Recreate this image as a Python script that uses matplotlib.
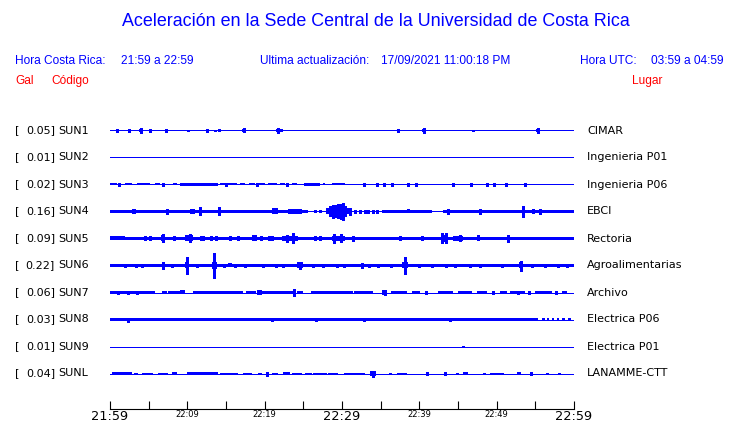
import matplotlib
matplotlib.use("Agg")
import matplotlib.pyplot as plt
import matplotlib.transforms as mtransforms
import numpy as np

# ---------------- data ----------------
codes = ["SUN1", "SUN2", "SUN3", "SUN4", "SUN5", "SUN6", "SUN7", "SUN8", "SUN9", "SUNL"]
gal = ["0.05", "0.01", "0.02", "0.16", "0.09", "0.22", "0.06", "0.03", "0.01", "0.04"]
places = ["CIMAR", "Ingenieria P01", "Ingenieria P06", "EBCI", "Rectoria",
          "Agroalimentarias", "Archivo", "Electrica P06", "Electrica P01", "LANAMME-CTT"]

tick_minutes = list(range(0, 61, 5))
tick_labels = ["21:59", "", "22:09", "", "22:19", "", "22:29", "", "22:39", "", "22:49", "", "22:59"]
major_labels = ["21:59", "22:29", "22:59"]

# envelope segments: (start minute, end minute, half amplitude)
bursts_SUN1 = [(3.7, 4.2, 1.6), (17.1, 17.5, 1.4), (21.5, 21.9, 1.6), (40.4, 40.8, 1.6), (55.1, 55.5, 1.6)]
spikes_SUN1 = [(0.86, 1.3), (2.5, 1.3), (3.97, 2.3), (5.2, 1.3), (7.2, 1.3), (10.1, 0.7), (12.5, 1.3),
               (13.6, 0.7), (14.1, 1.0), (17.3, 2.0), (21.7, 2.3), (22.1, 1.0), (37.2, 1.3),
               (40.6, 2.3), (46.9, 0.7), (55.3, 2.3)]

bursts_SUN2 = []
spikes_SUN2 = []

bursts_SUN3 = [(0.0, 0.86, 1.0), (1.94, 2.8, 1.0), (3.45, 5.17, 1.0), (5.82, 6.47, 1.0), (8.19, 8.62, 1.0),
               (9.05, 14.01, 1.2), (14.22, 16.38, 1.0), (16.81, 17.46, 1.0), (17.97, 18.75, 1.0),
               (19.18, 20.04, 1.0), (20.47, 21.55, 1.0), (21.98, 22.63, 1.0), (23.49, 24.14, 1.0),
               (25.09, 27.16, 1.2), (27.59, 27.8, 1.0), (28.66, 30.39, 1.0)]
spikes_SUN3 = [(1.2, 1.3), (6.9, 1.3), (15.0, 1.3), (19.0, 1.3), (22.9, 1.3), (32.89, 1.3), (34.57, 1.3),
               (35.47, 1.3), (36.51, 1.3), (38.58, 1.3), (39.53, 1.3), (44.31, 1.3), (46.68, 1.3),
               (48.71, 1.3), (49.70, 1.3), (51.2, 1.3), (53.66, 1.3)]

bursts_SUN4 = [(0.0, 25.65, 1.7), (2.8, 3.32, 2.3), (10.34, 10.99, 2.3), (20.91, 21.77, 3.0),
               (23.06, 24.78, 2.3), (27.9, 28.3, 3.0), (28.3, 30.7, 5.5), (28.7, 30.3, 6.3),
               (30.7, 31.0, 3.0), (35.13, 41.59, 1.7), (38.4, 38.8, 2.0), (43.1, 60.0, 1.7)]
spikes_SUN4 = [(7.33, 2.7), (11.64, 4.0), (14.14, 4.0), (26.51, 1.0), (27.16, 1.0), (28.9, 6.8),
               (29.5, 7.0), (29.9, 7.5), (30.17, 8.3), (31.03, 3.3), (31.68, 1.7), (32.33, 1.7),
               (32.97, 1.7), (33.41, 1.7), (34.05, 1.7), (34.48, 1.7), (43.75, 2.7), (47.84, 2.7),
               (53.45, 5.7), (54.74, 2.0), (55.6, 2.3)]

bursts_SUN5 = [(0.0, 60.0, 1.4), (0.0, 1.94, 2.0), (6.6, 7.0, 3.0), (9.7, 10.78, 3.0), (11.64, 12.28, 2.7),
               (18.32, 18.97, 3.0), (22.2, 24.35, 2.7), (28.66, 30.39, 2.7), (42.8, 43.5, 3.3),
               (44.4, 45.7, 2.5), (47.41, 47.84, 3.0), (58.4, 60.0, 1.7)]
spikes_SUN5 = [(4.5, 2.0), (5.2, 2.0), (6.8, 4.0), (8.3, 2.0), (10.34, 4.0), (13.0, 2.0), (13.7, 2.0),
               (15.5, 2.0), (16.5, 2.0), (19.5, 2.0), (20.5, 2.0), (21.0, 2.0), (22.9, 3.7), (23.71, 5.0),
               (26.5, 2.0), (27.2, 2.0), (29.01, 4.7), (29.9, 4.0), (31.47, 2.3), (37.5, 2.0),
               (40.3, 2.0), (42.89, 5.0), (43.41, 5.0), (45.2, 3.0), (51.51, 3.3)]

bursts_SUN6 = [(0.0, 60.0, 1.2), (6.68, 7.11, 3.0), (9.7, 10.2, 3.0), (13.2, 13.9, 3.3), (15.3, 15.73, 2.0),
               (24.14, 25.0, 3.0), (37.8, 38.5, 3.0), (52.9, 53.4, 3.0)]
spikes_SUN6 = [(1.9, 1.7), (3.3, 1.7), (4.2, 1.7), (6.9, 4.0), (8.0, 1.7), (9.91, 9.0), (11.2, 1.7),
               (13.49, 12.0), (14.8, 1.7), (16.2, 1.7), (17.5, 1.7), (19.8, 1.7), (21.5, 1.7),
               (22.4, 1.7), (24.6, 3.3), (26.3, 1.7), (27.5, 1.7), (29.4, 1.7), (30.2, 1.7), (32.54, 2.0),
               (33.5, 1.7), (34.7, 1.7), (36.3, 1.7), (38.15, 9.0), (39.9, 1.7), (41.7, 1.7), (43.4, 1.7),
               (44.6, 1.7), (46.5, 1.7), (47.9, 1.7), (50.7, 1.7), (53.15, 5.0), (54.6, 1.7), (56.2, 1.7),
               (57.9, 1.7), (59.1, 1.7)]

bursts_SUN7 = [(0.0, 5.82, 1.2), (6.68, 7.33, 1.8), (7.5, 9.05, 1.1), (9.05, 9.7, 2.0), (10.78, 11.21, 1.8),
               (11.21, 16.38, 1.1), (16.38, 17.24, 1.6), (17.6, 18.9, 1.1), (18.97, 19.61, 2.3),
               (19.61, 23.6, 1.1), (24.2, 25.0, 1.2), (26.0, 29.5, 1.1), (29.5, 31.47, 1.6),
               (31.5, 34.0, 1.1), (35.13, 35.78, 2.5), (36.4, 38.36, 1.2), (39.01, 40.09, 1.2),
               (42.46, 44.4, 1.2), (45.04, 46.77, 1.2), (47.41, 48.71, 1.4), (50.4, 51.3, 1.2),
               (51.7, 53.66, 1.2), (54.96, 57.11, 1.2), (58.41, 59.05, 1.2)]
spikes_SUN7 = [(1.0, 1.7), (2.3, 1.7), (3.5, 1.7), (23.84, 3.3), (35.5, 3.0), (40.8, 1.3), (49.5, 1.3),
               (52.7, 1.7), (54.2, 1.3), (57.7, 1.3)]

bursts_SUN8 = [(0.0, 55.4, 1.3), (55.9, 56.2, 1.3), (56.5, 56.8, 1.3), (57.1, 57.4, 1.3), (57.8, 58.1, 1.3),
               (58.5, 58.8, 1.3), (59.2, 59.6, 1.3)]
spikes_SUN8 = [(2.28, 2.0), (20.9, 1.7), (26.7, 1.5), (32.9, 1.5), (44.0, 1.5)]

bursts_SUN9 = []
spikes_SUN9 = [(45.69, 0.7)]

bursts_SUNL = [(0.2, 2.8, 1.3), (3.05, 3.66, 1.0), (4.1, 5.6, 1.0), (6.25, 7.54, 1.0), (7.97, 8.62, 1.3),
               (9.91, 14.01, 1.3), (14.22, 16.6, 1.0), (17.24, 18.3, 1.0), (19.18, 19.6, 1.0),
               (20.9, 21.77, 1.0), (22.41, 23.3, 1.3), (23.49, 24.78, 1.0), (25.2, 26.1, 1.0),
               (26.3, 28.0, 1.0), (28.2, 29.5, 1.0), (30.2, 32.97, 0.8), (33.62, 34.35, 2.5),
               (37.1, 38.36, 1.0), (45.6, 46.34, 1.3), (49.1, 51.0, 0.8), (52.6, 53.2, 1.3)]
spikes_SUNL = [(20.26, 2.0), (34.0, 3.0), (36.2, 1.0), (41.0, 1.3), (43.3, 1.3), (44.9, 1.0), (48.3, 1.0),
               (54.5, 1.3), (56.5, 1.0), (58.0, 1.0)]

bursts = [bursts_SUN1, bursts_SUN2, bursts_SUN3, bursts_SUN4, bursts_SUN5,
          bursts_SUN6, bursts_SUN7, bursts_SUN8, bursts_SUN9, bursts_SUNL]
spikes = [spikes_SUN1, spikes_SUN2, spikes_SUN3, spikes_SUN4, spikes_SUN5,
          spikes_SUN6, spikes_SUN7, spikes_SUN8, spikes_SUN9, spikes_SUNL]

# ---------------- figure ----------------
W, H = 740, 423
fig = plt.figure(figsize=(W / 100, H / 100), dpi=100)
fig.patch.set_facecolor("white")

ax_left, ax_right, ax_top, ax_bot = 110, 574, 117, 409
ax = fig.add_axes([ax_left / W, (H - ax_bot) / H, (ax_right - ax_left) / W, (ax_bot - ax_top) / H])
spacing_px = 27.0
first_px = 130.5
ax.set_xlim(0, 60)
ax.set_ylim((ax_bot - first_px) / spacing_px, (ax_top - first_px) / spacing_px)
amp_scale = 1.0 / spacing_px

BLUE = "#0000ff"
for i in range(len(codes)):
    ax.plot([0, 60], [i, i], color=BLUE, lw=0.72, solid_capstyle="butt", antialiased=False)
    for (s, e, a) in bursts[i]:
        ax.fill_between([s, e], i - a * amp_scale, i + a * amp_scale, color=BLUE, lw=0,
                        antialiased=False)
    for (t, a) in spikes[i]:
        ax.vlines(t, i - a * amp_scale, i + a * amp_scale, color=BLUE, lw=1.0, antialiased=False)

for sp in ["top", "left", "right"]:
    ax.spines[sp].set_visible(False)
ax.spines["bottom"].set_linewidth(0.8)
ax.set_yticks([])
ax.set_xticks(tick_minutes)
ax.set_xticklabels(tick_labels)
ax.tick_params(axis="x", direction="in", length=6.0, width=0.8, pad=0.5, colors="black")
for lbl in ax.get_xticklabels():
    if lbl.get_text() in major_labels:
        lbl.set_fontsize(9.3)
    else:
        lbl.set_fontsize(6)
ax.patch.set_alpha(0)

# row labels
trans = mtransforms.blended_transform_factory(fig.transFigure, ax.transData)
for i in range(len(codes)):
    fig.text(15 / W, i, "[", transform=trans, ha="left", va="center", fontsize=8, family="DejaVu Sans")
    fig.text(55 / W, i, gal[i] + "]", transform=trans, ha="right", va="center", fontsize=8, family="DejaVu Sans")
    fig.text(58.5 / W, i, codes[i], transform=trans, ha="left", va="center", fontsize=8, family="DejaVu Sans")
    fig.text(587 / W, i, places[i], transform=trans, ha="left", va="center", fontsize=8, family="DejaVu Sans")

# header
hf = "Liberation Sans"
hs = 8.6
fig.text(376 / W, 1 - 22 / H, "Aceleración en la Sede Central de la Universidad de Costa Rica",
         ha="center", va="center", fontsize=12.9, color=BLUE, family=hf)
fig.text(15 / W, 1 - 61 / H, "Hora Costa Rica:", ha="left", va="center", fontsize=hs, color=BLUE, family=hf)
fig.text(121 / W, 1 - 61 / H, "21:59 a 22:59", ha="left", va="center", fontsize=hs, color=BLUE, family=hf)
fig.text(260 / W, 1 - 61 / H, "Ultima actualización:", ha="left", va="center", fontsize=hs, color=BLUE, family=hf)
fig.text(381 / W, 1 - 61 / H, "17/09/2021 11:00:18 PM", ha="left", va="center", fontsize=hs, color=BLUE, family=hf)
fig.text(580 / W, 1 - 61 / H, "Hora UTC:", ha="left", va="center", fontsize=hs, color=BLUE, family=hf)
fig.text(724 / W, 1 - 61 / H, "03:59 a 04:59", ha="right", va="center", fontsize=hs, color=BLUE, family=hf)
fig.text(15 / W, 1 - 81 / H, "Gal", ha="left", va="center", fontsize=hs, color="#ff0000", family=hf)
fig.text(51 / W, 1 - 81 / H, "Código", ha="left", va="center", fontsize=hs, color="#ff0000", family=hf)
fig.text(662 / W, 1 - 81 / H, "Lugar", ha="right", va="center", fontsize=hs, color="#ff0000", family=hf)

fig.savefig("out.png", dpi=100, facecolor="white")
